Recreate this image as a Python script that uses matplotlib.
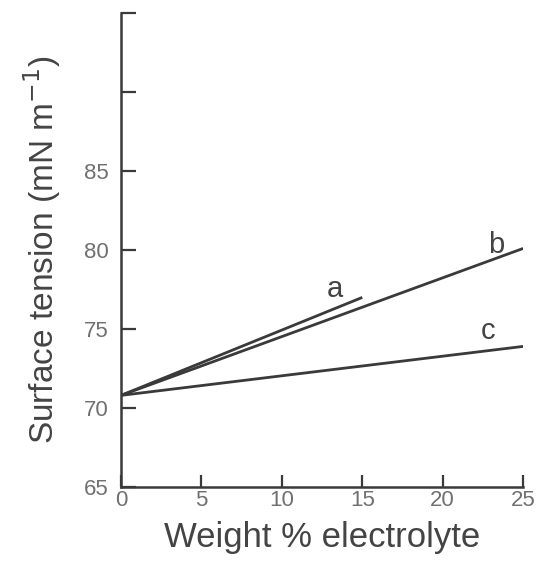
import matplotlib
matplotlib.use("Agg")
import matplotlib.pyplot as plt
import numpy as np

# Data
weight_pct_a = [0, 15]
tension_a = [70.8, 77.0]
weight_pct_b = [0, 25]
tension_b = [70.8, 80.1]
weight_pct_c = [0, 25]
tension_c = [70.8, 73.9]

series_labels = ["a", "b", "c"]
label_pos = [(13.3, 76.65), (23.3, 79.45), (22.8, 74.0)]

x_ticks = [0, 5, 10, 15, 20, 25]
y_ticks = [65, 70, 75, 80, 85, 90, 95]
y_tick_labels = ["65", "70", "75", "80", "85", "", ""]

plt.rcParams['font.family'] = ['Liberation Sans', 'DejaVu Sans']

fig = plt.figure(figsize=(5.42, 5.65), dpi=100)
ax = fig.add_axes([0.2232, 0.138, 0.742, 0.839])

line_color = "#3a3a3a"
for xs, ys in [(weight_pct_a, tension_a), (weight_pct_b, tension_b), (weight_pct_c, tension_c)]:
    ax.plot(xs, ys, color=line_color, lw=2.0, solid_capstyle='butt')

for lab, (lx, ly) in zip(series_labels, label_pos):
    ax.text(lx, ly, lab, fontsize=21, color="#444444", ha="center", va="bottom")

ax.set_xlim(0, 25)
ax.set_ylim(65, 95)
ax.set_xticks(x_ticks)
ax.set_yticks(y_ticks)
ax.set_yticklabels(y_tick_labels)

for s in ["top", "right"]:
    ax.spines[s].set_visible(False)
for s in ["left", "bottom"]:
    ax.spines[s].set_color("#3a3a3a")
    ax.spines[s].set_linewidth(1.8)

ax.tick_params(axis="y", direction="in", length=11, width=1.6, color="#3a3a3a",
               labelsize=16, labelcolor="#707070", pad=9)
ax.tick_params(axis="x", direction="in", length=9, width=1.6, color="#3a3a3a",
               labelsize=16, labelcolor="#707070", pad=2)

ax.set_xlabel("Weight % electrolyte", fontsize=25, color="#444444", labelpad=7)
ax.set_ylabel("Surface tension (mN m$^{-1}$)", fontsize=24, color="#444444", labelpad=15)

fig.savefig("out.png", dpi=100)
